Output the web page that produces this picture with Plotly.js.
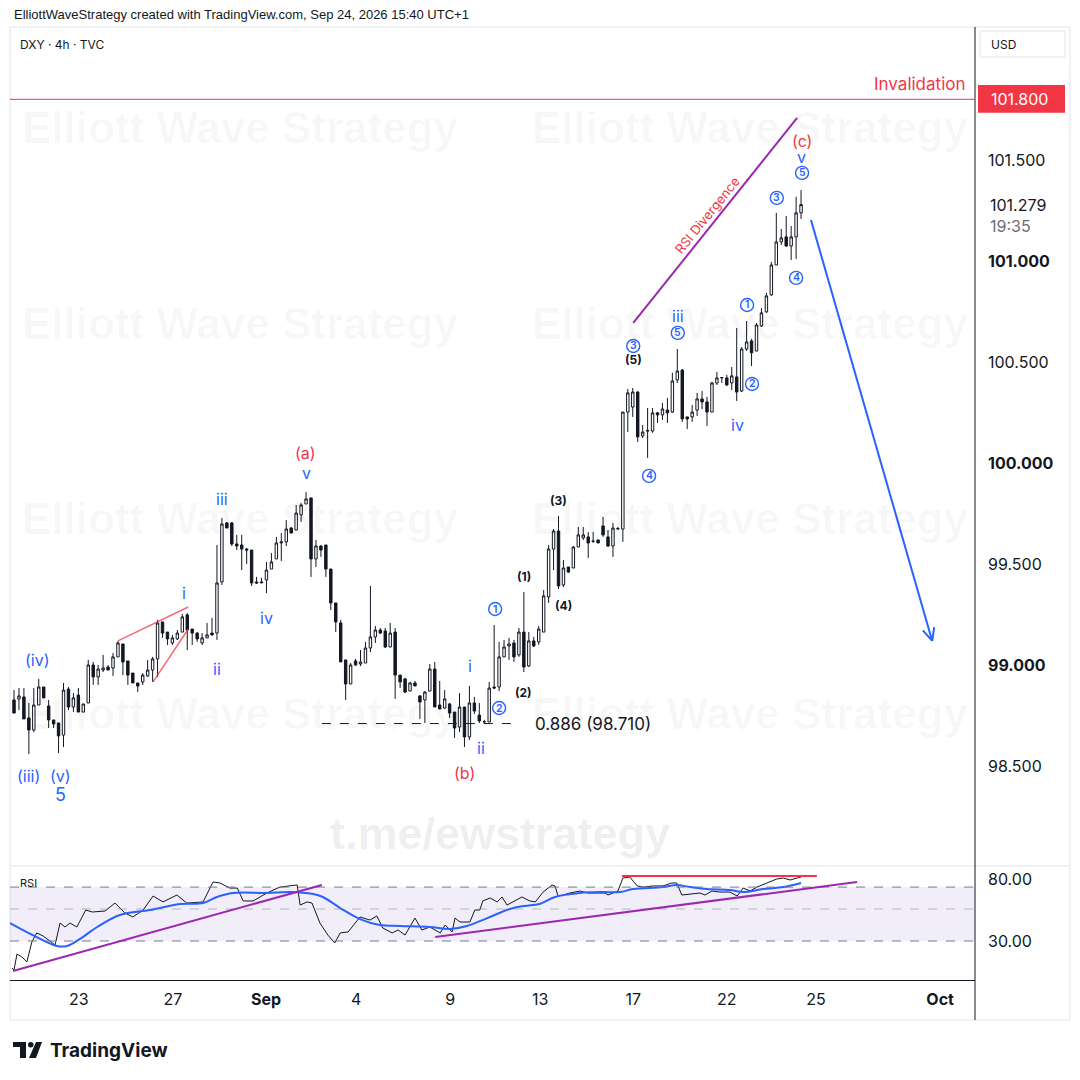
<!DOCTYPE html>
<html><head><meta charset="utf-8">
<script src="https://cdn.plot.ly/plotly-3.0.1.min.js"></script>
<style>html,body{margin:0;padding:0;background:#fff;}#chart{width:1080px;height:1080px;}</style>
</head><body><div id="chart"></div>
<script>
// ---------- DATA ----------
const candleOpen = [98.827,98.832,98.842,98.738,98.678,98.802,98.891,98.797,98.728,98.713,
98.653,98.881,98.792,98.851,98.767,98.812,99.000,98.941,98.975,98.990,
98.985,99.040,99.104,99.020,98.960,98.911,98.916,98.946,98.975,99.030,
99.213,99.163,99.109,99.129,99.163,99.248,99.178,99.158,99.109,99.134,
99.158,99.158,99.411,99.703,99.703,99.599,99.594,99.574,99.569,99.411,
99.406,99.421,99.475,99.525,99.604,99.609,99.678,99.668,99.743,99.797,
99.827,99.525,99.589,99.594,99.475,99.307,99.208,99.025,98.906,99.020,
99.005,99.010,99.084,99.139,99.173,99.168,99.089,99.163,98.950,98.931,
98.871,98.911,98.847,98.827,98.871,98.980,98.802,98.787,98.807,98.767,
98.693,98.792,98.644,98.812,98.752,98.718,98.718,98.891,98.891,99.040,
99.094,99.109,99.050,99.163,98.995,99.119,99.114,99.163,99.337,99.574,
99.663,99.396,99.485,99.480,99.584,99.629,99.634,99.614,99.619,99.688,
99.634,99.589,99.673,99.673,100.252,100.277,100.351,100.134,100.158,100.158,
100.248,100.238,100.262,100.252,100.411,100.460,100.228,100.228,100.262,100.317,
100.302,100.252,100.396,100.421,100.421,100.396,100.426,100.356,100.564,100.604,
100.554,100.678,100.748,100.832,100.980,101.094,101.119,101.074,101.119,101.238];
const candleHigh = [98.876,98.886,98.886,98.812,98.886,98.931,98.891,98.827,98.728,98.713,
98.911,98.891,98.861,98.886,98.807,99.025,99.015,99.000,99.050,99.000,
99.059,99.119,99.104,99.020,98.960,98.911,98.960,99.025,99.040,99.223,
99.213,99.163,99.149,99.173,99.252,99.257,99.178,99.163,99.158,99.208,
99.233,99.594,99.728,99.708,99.708,99.644,99.644,99.579,99.569,99.436,
99.431,99.510,99.554,99.634,99.653,99.718,99.683,99.792,99.802,99.856,
99.827,99.619,99.594,99.594,99.475,99.307,99.223,99.025,99.010,99.030,
99.074,99.114,99.391,99.193,99.183,99.183,99.208,99.183,98.950,98.936,
98.916,98.921,98.851,98.871,99.005,99.015,98.921,98.876,98.812,98.767,
98.861,98.792,98.896,98.842,98.812,98.728,98.916,99.198,99.114,99.124,
99.134,99.124,99.183,99.361,99.163,99.139,99.193,99.371,99.594,99.673,
99.738,99.520,99.485,99.589,99.683,99.683,99.658,99.658,99.619,99.733,
99.668,99.703,99.683,100.252,100.366,100.371,100.356,100.188,100.272,100.272,
100.252,100.297,100.322,100.446,100.564,100.465,100.228,100.287,100.347,100.356,
100.327,100.401,100.450,100.425,100.436,100.475,100.668,100.574,100.703,100.614,
100.693,100.767,100.842,100.995,101.238,101.158,101.223,101.173,101.317,101.351];
const candleLow = [98.762,98.777,98.733,98.559,98.668,98.802,98.837,98.688,98.688,98.564,
98.594,98.777,98.767,98.767,98.767,98.812,98.901,98.901,98.965,98.975,
98.946,99.040,98.950,98.901,98.911,98.866,98.901,98.941,98.916,98.941,
99.134,99.099,99.099,99.124,99.163,99.074,99.099,99.114,99.099,99.134,
99.144,99.124,99.396,99.678,99.589,99.569,99.470,99.500,99.391,99.401,
99.406,99.356,99.475,99.525,99.515,99.589,99.653,99.668,99.708,99.797,
99.436,99.485,99.535,99.436,99.272,99.163,99.015,98.827,98.906,98.995,
98.995,99.010,99.064,99.109,99.153,99.084,99.089,98.832,98.886,98.861,
98.871,98.896,98.733,98.713,98.871,98.792,98.782,98.782,98.738,98.639,
98.668,98.594,98.629,98.757,98.713,98.708,98.718,98.881,98.871,99.040,
99.025,99.015,99.040,98.965,98.990,99.089,99.099,99.163,99.307,99.470,
99.376,99.386,99.455,99.480,99.584,99.619,99.530,99.604,99.604,99.634,
99.584,99.535,99.673,99.609,100.153,100.228,100.104,100.124,100.025,100.149,
100.198,100.213,100.198,100.248,100.396,100.203,100.168,100.203,100.233,100.267,
100.183,100.252,100.386,100.396,100.381,100.361,100.307,100.351,100.554,100.480,
100.554,100.673,100.743,100.827,100.980,101.079,101.069,101.005,101.010,101.208];
const candleClose = [98.762,98.847,98.733,98.678,98.802,98.891,98.837,98.728,98.708,98.649,
98.876,98.792,98.837,98.767,98.807,99.000,98.941,98.980,98.985,98.975,
99.040,99.109,99.015,98.950,98.911,98.896,98.950,98.975,99.030,99.208,
99.158,99.129,99.134,99.158,99.238,99.173,99.158,99.129,99.134,99.149,
99.149,99.406,99.698,99.678,99.599,99.589,99.574,99.569,99.406,99.406,
99.410,99.470,99.510,99.604,99.609,99.673,99.653,99.752,99.792,99.822,
99.525,99.589,99.569,99.475,99.307,99.213,99.015,98.906,99.000,99.000,
99.015,99.084,99.139,99.173,99.158,99.089,99.158,98.950,98.916,98.866,
98.911,98.896,98.817,98.866,98.980,98.792,98.782,98.832,98.762,98.688,
98.792,98.644,98.812,98.772,98.723,98.720,98.886,98.886,99.040,99.089,
99.104,99.040,99.163,98.990,99.119,99.094,99.178,99.342,99.574,99.663,
99.391,99.480,99.460,99.584,99.644,99.644,99.604,99.612,99.604,99.644,
99.589,99.678,99.675,100.252,100.347,100.351,100.129,100.153,100.160,100.248,
100.238,100.267,100.248,100.406,100.455,100.218,100.218,100.252,100.317,100.302,
100.252,100.396,100.421,100.423,100.386,100.431,100.351,100.564,100.599,100.545,
100.683,100.743,100.827,100.980,101.094,101.114,101.074,101.119,101.238,101.279];

// RSI (vertices read along the bar index)
const rsiX = [-0.4,0,0.6,1.6,2.6,3.6,4.6,5.9,8.3,9.3,10.3,11.3,12.7,14.5,15.8,18.4,20.4,22.4,24.0,26.1,28.1,30.1,32.9,34.9,38.2,40.2,41.6,43.6,45.1,46.3,48.3,51.1,53.7,55.2,55.8,57.2,57.8,59.2,60.2,61.8,63.4,64.8,65.9,67.5,69.9,71.9,73.3,74.5,76.4,77.6,79.0,81.0,82.4,84.0,86.1,87.1,88.5,89.1,90.1,92.1,93.1,94.1,94.7,96.2,97.6,98.6,99.6,101.2,102.6,104.2,105.3,106.9,108.7,109.3,109.9,110.9,112.3,114.3,116.0,117.8,119.4,120.0,122.0,123.0,124.4,125.9,127.1,129.1,131.1,132.9,133.9,134.9,137.2,138.6,139.6,141.0,142.6,144.6,146.1,147.3,148.7,150.1,152.1,154.1,155.4,156.8,158.2,159.0];
const rsiVal = [8.2,6.6,19.5,17.1,13.1,29.2,36.5,34.0,26.8,44.5,41.3,44.5,41.3,55.0,53.4,54.2,60.6,52.6,49.4,55.0,66.3,61.5,67.1,60.6,61.5,77.6,76.8,72.7,72.7,62.3,62.3,68.7,73.5,74.4,74.4,75.2,59.0,61.5,60.6,44.5,34.8,28.4,36.5,37.3,49.4,46.9,50.2,40.5,36.5,38.9,34.8,48.5,38.9,41.3,36.5,42.9,37.3,48.5,45.3,45.3,55.0,55.0,62.3,64.7,61.5,65.5,59.0,62.3,65.5,62.3,61.5,69.5,75.2,74.4,66.3,67.1,68.7,70.3,68.7,68.7,68.7,67.1,70.3,80.8,81.6,74.4,73.5,74.4,74.4,76.8,76.8,67.1,67.9,68.7,67.1,70.3,69.5,69.5,66.3,72.7,70.3,73.5,76.8,80.0,80.8,79.2,80.8,81.6];
const rsiMaX = [-0.8,3.8,8.7,10.7,13.9,16.8,21.4,27.5,33.5,38.2,41.0,44.2,51.1,55.8,60.4,62.4,65.9,69.9,73.9,78.0,84.0,88.1,91.5,95.6,100.2,102.6,106.3,109.3,114.3,119.0,122.4,125.1,131.1,133.9,136.6,140.0,144.6,147.3,151.3,155.4,159.0];
const rsiMaVal = [44.5,34.8,26.0,26.0,33.2,41.3,51.0,55.0,59.8,60.6,65.5,68.7,68.7,69.5,67.9,65.5,56.6,47.7,42.9,42.1,41.3,39.7,42.1,48.5,55.8,58.0,60.0,65.5,68.7,69.5,69.5,71.9,73.5,75.2,73.5,71.9,71.1,69.5,71.9,73.5,76.8];
const rsiBands = [73.5, 55.8, 30];

const tickIdx = [13.1,32.1,50.9,69.1,88.1,106.3,125.1,144.0,162.0,187.1];
const tickText = ['23','27','Sep','4','9','13','17','22','25','Oct'];
const boldTicks = ['Sep','Oct'];
const priceTicks = [98.5,99,99.5,100,100.5,101,101.5];
const rsiTicks = [80,30];

const invalidationLevel = 101.8;
const fibLevel = 98.710;
const fibLabel = '0.886 (98.710)';
const lastPrice = 101.279;
const lastTime = '19:35';

// ---------- STYLE ----------
const blue='#2962ff', red='#f23645', ink='#131722', purple='#9c27b0';
const FONT='Inter, Roboto, "Liberation Sans", sans-serif';
const CIRC='"Noto Sans CJK JP", "DejaVu Sans", sans-serif';
const PX = px => (px-10)/965;       // page px -> paper x
const PY = py => (980-py)/952;      // page px -> paper y

const idx = candleOpen.map((_,i)=>i);

const traces = [
 {type:'candlestick', x:idx, open:candleOpen, high:candleHigh, low:candleLow, close:candleClose,
  xaxis:'x', yaxis:'y', whiskerwidth:0, hoverinfo:'skip', showlegend:false,
  increasing:{line:{color:ink,width:1}, fillcolor:'#ffffff'},
  decreasing:{line:{color:ink,width:1}, fillcolor:ink}},
 {type:'scatter', mode:'lines', x:rsiX, y:rsiVal, xaxis:'x', yaxis:'y2',
  line:{color:ink,width:1}, hoverinfo:'skip', showlegend:false},
 {type:'scatter', mode:'lines', x:rsiMaX, y:rsiMaVal, xaxis:'x', yaxis:'y2',
  line:{color:blue,width:2,shape:'spline',smoothing:1}, hoverinfo:'skip', showlegend:false}
];

function note(text,x,y,color,size,extra){
  return Object.assign({text:text,x:x,y:y,xref:'x',yref:'y',showarrow:false,
    font:{family:FONT,size:size,color:color},xanchor:'center',yanchor:'middle'},extra||{});
}
function pnote(text,x,y,color,size,extra){
  return Object.assign({text:text,x:x,y:y,xref:'paper',yref:'paper',showarrow:false,
    font:{family:FONT,size:size,color:color},xanchor:'left',yanchor:'middle'},extra||{});
}

const waveLabels = [
 ['(iii)',3.0,98.450,blue,16],['(v)',9.3,98.450,blue,16],['5',9.3,98.361,blue,18],
 ['(iv)',4.8,99.025,blue,16],['i',34.3,99.356,blue,16],['ii',41.0,98.980,blue,16],
 ['iii',42.0,99.822,blue,16],['iv',51.1,99.233,blue,16],['(a)',58.8,100.050,red,16],
 ['v',59.0,99.950,blue,16],['i',92.1,98.995,blue,16],['ii',94.3,98.589,blue,16],
 ['(b)',91.1,98.465,red,16],['iii',134.1,100.728,blue,16],['iv',146.1,100.188,blue,16],
 ['v',159.0,101.515,blue,16],['(c)',159.2,101.594,red,16]
];
const circled = [
 ['1',97.2,99.277],['2',98.0,98.787],['3',125.1,100.579],['4',128.3,99.936],
 ['5',134.1,100.644],['1',148.1,100.782],['2',149.1,100.391],['3',154.1,101.312],
 ['4',158.0,100.916],['5',159.2,101.436]
];
const boldLabels = [['(1)',103.0,99.436],['(2)',103.0,98.866],['(3)',109.9,99.812],['(4)',111.1,99.292],['(5)',125.1,100.510]];

const annotations = [];
const shapes = [];
// watermarks
[[240,128],[750,128],[240,323],[750,323],[240,518],[750,518],[240,713],[750,713]].forEach(p=>{
  annotations.push(pnote('<b>Elliott Wave Strategy</b>',PX(p[0]),PY(p[1]),'rgba(0,0,0,0.03)',44,{xanchor:'center',font:{family:'"Liberation Sans", Arial, sans-serif',size:44,color:'rgba(0,0,0,0.03)'}}));
});
annotations.push(pnote('<b>t.me/ewstrategy</b>',PX(500),PY(833),'rgba(0,0,0,0.08)',45,{xanchor:'center',font:{family:'"Liberation Sans", Arial, sans-serif',size:45,color:'rgba(0,0,0,0.08)'}}));

waveLabels.forEach(w=>annotations.push(note(w[0],w[1],w[2],w[3],w[4])));
// circled wave numbers: digit inside a blue ring (ring drawn as a circle shape in pixel units around the label point)
circled.forEach(c=>{
  annotations.push(note(c[0],c[1],c[2],blue,10.5,{font:{family:FONT,size:10.5,color:blue,weight:600}}));
  shapes.push({type:'circle',xref:'x',yref:'y',xsizemode:'pixel',ysizemode:'pixel',xanchor:c[1],yanchor:c[2],
    x0:-6.5,x1:6.5,y0:-6.5,y1:6.5,line:{color:blue,width:1.4},fillcolor:'rgba(255,255,255,0)'});
});
boldLabels.forEach(b=>annotations.push(note('<b>'+b[0]+'</b>',b[1],b[2],ink,12)));
annotations.push(note('RSI Divergence',140.0,101.228,red,13,{textangle:-51}));
annotations.push(note(fibLabel,117.0,fibLevel,ink,17));

// header & chrome texts
annotations.push(pnote('ElliottWaveStrategy created with TradingView.com, Sep 24, 2026 15:40 UTC+1',PX(12),PY(14),ink,12,{font:{family:'"Liberation Sans Narrow", "Liberation Sans", sans-serif',size:13,color:ink}}));
annotations.push(pnote('DXY · 4h · TVC',PX(18),PY(44),ink,12));
annotations.push(pnote('USD',PX(989),PY(44),ink,12));
annotations.push({text:'Invalidation',x:PX(967),y:invalidationLevel,xref:'paper',yref:'y',yshift:15,showarrow:false,
  xanchor:'right',yanchor:'middle',font:{family:FONT,size:17,color:red}});
annotations.push({text:invalidationLevel.toFixed(3),x:PX(989),y:invalidationLevel,xref:'paper',yref:'y',showarrow:false,
  xanchor:'left',yanchor:'middle',font:{family:FONT,size:16,color:'#ffffff'}});
annotations.push({text:lastPrice.toFixed(3),x:PX(988),y:lastPrice,xref:'paper',yref:'y',showarrow:false,
  xanchor:'left',yanchor:'middle',font:{family:FONT,size:16,color:ink}});
annotations.push({text:lastTime,x:PX(988),y:lastPrice,xref:'paper',yref:'y',yshift:-21,showarrow:false,
  xanchor:'left',yanchor:'middle',font:{family:FONT,size:16,color:'#6a6d78'}});
annotations.push(pnote('RSI',PX(18),PY(883),ink,11));
annotations.push(pnote('<b>TradingView</b>',PX(48),PY(1050),ink,19));

shapes.push(
 // chart frame
 {type:'rect',xref:'paper',yref:'paper',x0:0,x1:PX(1070),y0:PY(1020),y1:PY(27),line:{color:'#e0e3eb',width:1},fillcolor:'rgba(0,0,0,0)',layer:'below'},
 {type:'line',xref:'paper',yref:'paper',x0:0,x1:PX(1070),y0:PY(866),y1:PY(866),line:{color:'#e0e3eb',width:1}},
 {type:'line',xref:'paper',yref:'paper',x0:1,x1:1,y0:PY(1020),y1:PY(27),line:{color:ink,width:1}},
 // USD box
 {type:'rect',xref:'paper',yref:'paper',x0:PX(980),x1:PX(1065),y0:PY(57),y1:PY(31),line:{color:'#e0e3eb',width:1}},
 // RSI band
 {type:'rect',xref:'paper',yref:'y2',x0:0,x1:1,y0:rsiBands[2],y1:rsiBands[0],fillcolor:'rgba(126,87,194,0.1)',line:{width:0},layer:'below'},
 {type:'line',xref:'paper',yref:'y2',x0:0,x1:1,y0:rsiBands[0],y1:rsiBands[0],line:{color:'#787b86',width:1,dash:'dash'}},
 {type:'line',xref:'paper',yref:'y2',x0:0,x1:1,y0:rsiBands[1],y1:rsiBands[1],line:{color:'rgba(120,123,134,0.5)',width:1,dash:'dash'}},
 {type:'line',xref:'paper',yref:'y2',x0:0,x1:1,y0:rsiBands[2],y1:rsiBands[2],line:{color:'#787b86',width:1,dash:'dash'}},
 // RSI trendlines
 {type:'line',xref:'x',yref:'y2',x0:-0.2,y0:5.8,x1:62.2,y1:75.2,line:{color:purple,width:2}},
 {type:'line',xref:'x',yref:'y2',x0:85.1,y0:33.2,x1:170.3,y1:77.6,line:{color:purple,width:2}},
 {type:'line',xref:'x',yref:'y2',x0:122.8,y0:82.4,x1:162.2,y1:82.4,line:{color:red,width:2}},
 // invalidation
 {type:'line',xref:'paper',yref:'y',x0:0,x1:1,y0:invalidationLevel,y1:invalidationLevel,line:{color:red,width:1}},
 {type:'rect',xref:'paper',yref:'y',x0:PX(978),x1:PX(1065),y0:101.733,y1:101.871,fillcolor:red,line:{width:0}},
 // fib dashed
 {type:'line',xref:'x',yref:'y',x0:62.2,x1:101.2,y0:fibLevel,y1:fibLevel,line:{color:ink,width:1,dash:'dash'}},
 // wedge
 {type:'line',xref:'x',yref:'y',x0:21.0,y0:99.119,x1:35.2,y1:99.287,line:{color:'rgba(242,54,69,0.75)',width:1.5}},
 {type:'line',xref:'x',yref:'y',x0:28.1,y0:98.916,x1:35.2,y1:99.178,line:{color:'rgba(242,54,69,0.75)',width:1.5}},
 // divergence line
 {type:'line',xref:'x',yref:'y',x0:125.1,y0:100.693,x1:158.2,y1:101.708,line:{color:purple,width:2}},
 // projection arrow
 {type:'line',xref:'x',yref:'y',x0:161.0,y0:101.203,x1:185.5,y1:99.119,line:{color:blue,width:2}},
 {type:'line',xref:'x',yref:'y',x0:185.9,y0:99.187,x1:185.5,y1:99.119,line:{color:blue,width:2}},
 {type:'line',xref:'x',yref:'y',x0:183.6,y0:99.171,x1:185.5,y1:99.119,line:{color:blue,width:2}},
 // logo
 {type:'path',xref:'paper',yref:'paper',path:`M${PX(13)},${PY(1042)} L${PX(26)},${PY(1042)} L${PX(26)},${PY(1058)} L${PX(20)},${PY(1058)} L${PX(20)},${PY(1047)} L${PX(13)},${PY(1047)} Z`,fillcolor:ink,line:{width:0}},
 {type:'circle',xref:'paper',yref:'paper',x0:PX(28),x1:PX(33.5),y0:PY(1047.5),y1:PY(1042),fillcolor:ink,line:{width:0}},
 {type:'path',xref:'paper',yref:'paper',path:`M${PX(36)},${PY(1042)} L${PX(42)},${PY(1042)} L${PX(36)},${PY(1058)} L${PX(29)},${PY(1058)} Z`,fillcolor:ink,line:{width:0}}
);

const layout = {
  width:1080, height:1080, margin:{l:10,r:105,t:28,b:100,pad:0},
  paper_bgcolor:'#ffffff', plot_bgcolor:'#ffffff', showlegend:false,
  font:{family:FONT,color:ink},
  xaxis:{domain:[0,1], anchor:'y2', range:[-0.81,194.14], rangeslider:{visible:false},
    tickvals:tickIdx, ticktext:tickText.map(t=>boldTicks.includes(t)?'<b>'+t+'</b>':t),
    tickfont:{size:16,color:ink}, ticks:'', ticklabelstandoff:5, showgrid:false, zeroline:false,
    showline:true, linecolor:ink, linewidth:1},
  yaxis:{domain:[PY(866),1], anchor:'x', side:'right', range:[98.005,102.153],
    tickvals:priceTicks, ticktext:priceTicks.map(v=>Number.isInteger(v)?'<b>'+v.toFixed(3)+'</b>':v.toFixed(3)),
    tickfont:{size:16,color:ink}, ticks:'', ticklabelstandoff:12, showgrid:false, zeroline:false, showline:false},
  yaxis2:{domain:[0,PY(866)], anchor:'x', side:'right', range:[-1.45,90.5],
    tickvals:rsiTicks, ticktext:rsiTicks.map(v=>v.toFixed(2)),
    tickfont:{size:16,color:ink}, ticks:'', ticklabelstandoff:12, showgrid:false, zeroline:false, showline:false},
  boxgap:0.3,
  shapes:shapes, annotations:annotations
};

Plotly.newPlot('chart', traces, layout, {staticPlot:true, displayModeBar:false});
</script>
</body></html>
